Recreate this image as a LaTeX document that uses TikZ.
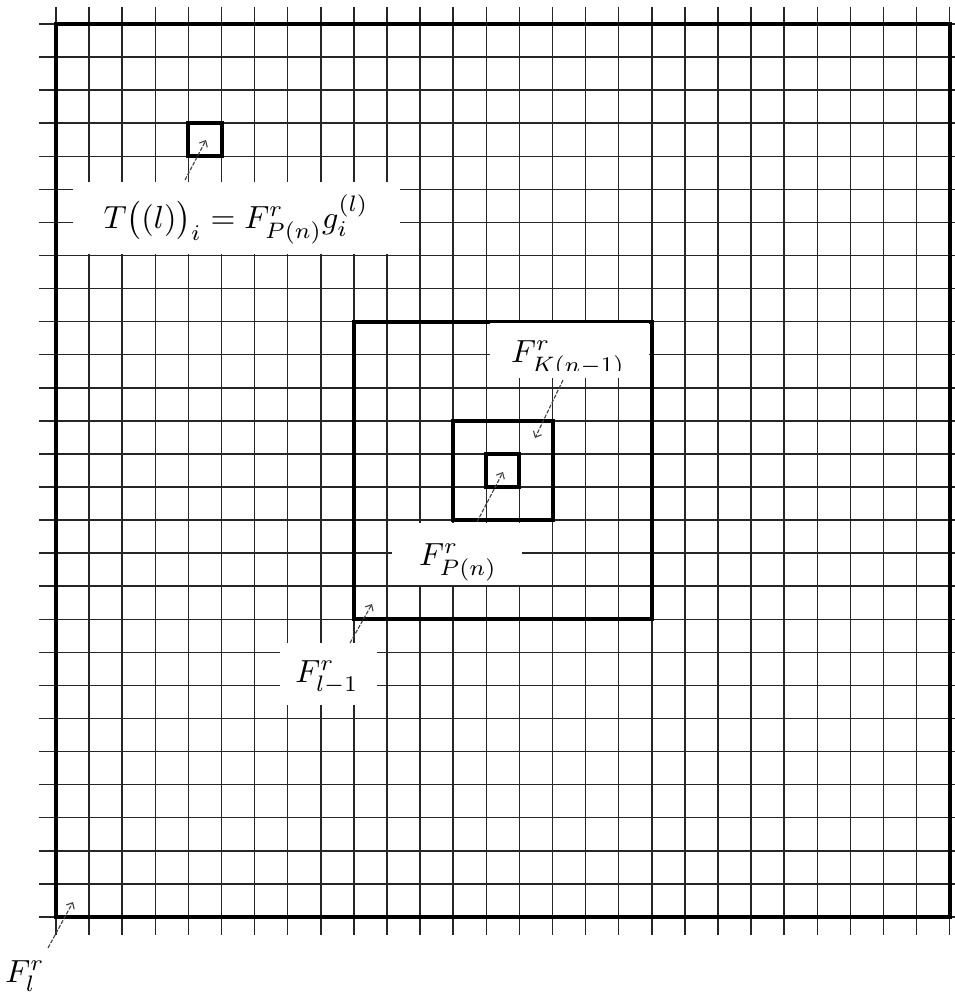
\documentclass[tikz,border=0pt]{standalone}
\usepackage{graphicx}
\usetikzlibrary{arrows.meta}
\newcommand{\bigtxt}[1]{\scalebox{3.2}{#1}}
\begin{document}
\begin{tikzpicture}[x=1pt,y=-1pt,
  gridline/.style={line width=1.5pt, black!85},
  boldsq/.style={line width=4pt, line join=miter, black},
  whitebox/.style={fill=white, draw=none},
  lbl/.style={inner sep=0pt, anchor=base},
  ptr/.style={line width=1.1pt, black!75, dash pattern=on 4pt off 1.5pt, -{Straight Barb[length=5pt,width=9pt]}}]
\useasboundingbox (0,0) rectangle (955,996);
\clip (0,0) rectangle (955,996);
% grid
\foreach \k in {0,...,27}{
  \draw[gridline] ({56+33.1*\k},7) -- ({56+33.1*\k},935);
  \draw[gridline] (39,{24+33.07*\k}) -- (962,{24+33.07*\k});
}
% bold squares
\draw[boldsq] (56,24) rectangle (949.7,916.9);
\draw[boldsq] (188.4,123.2) rectangle (221.5,156.3);
\draw[boldsq] (353.9,321.6) rectangle (651.8,619.3);
\draw[boldsq] (453.2,420.8) rectangle (552.5,520.1);
\draw[boldsq] (486.3,453.9) rectangle (519.4,487.0);
% white label boxes
\fill[whitebox] (73,182) rectangle (400,254);
\fill[whitebox] (490,323) rectangle (649,378);
\fill[whitebox] (392,523) rectangle (522,585);
\fill[whitebox] (280,643) rectangle (377,705);
% labels
\node[lbl] (t) at (236,228) {\bigtxt{$T\bigl((l)\bigr)_i = F^r_{P(n)}g_i^{(l)}$}};
\begin{scope}
  \clip (480,320) rectangle (660,370);
  \node[lbl] (k) at (568,362) {\bigtxt{$F^r_{K(n-1)}$}};
\end{scope}
\node[lbl] (p) at (458,565) {\bigtxt{$F^r_{P(n)}$}};
\node[lbl] (lm) at (327,682) {\bigtxt{$F^r_{l-1}$}};
\node[lbl] (l) at (25,982) {\bigtxt{$F^r_l$}};
% arrow ends
\coordinate (ta) at (185,180);  \coordinate (tb) at (206,140);
\coordinate (ka) at (563,380);  \coordinate (kb) at (535,438);
\coordinate (pa) at (477,522);  \coordinate (pb) at (503,472);
\coordinate (la) at (350,643);  \coordinate (lb) at (372,604);
\coordinate (fa) at (48,948);   \coordinate (fb) at (73,902);
\draw[ptr] (ta) -- (tb);
\draw[ptr] (ka) -- (kb);
\draw[ptr] (pa) -- (pb);
\draw[ptr] (la) -- (lb);
\draw[ptr] (fa) -- (fb);
\end{tikzpicture}
\end{document}
